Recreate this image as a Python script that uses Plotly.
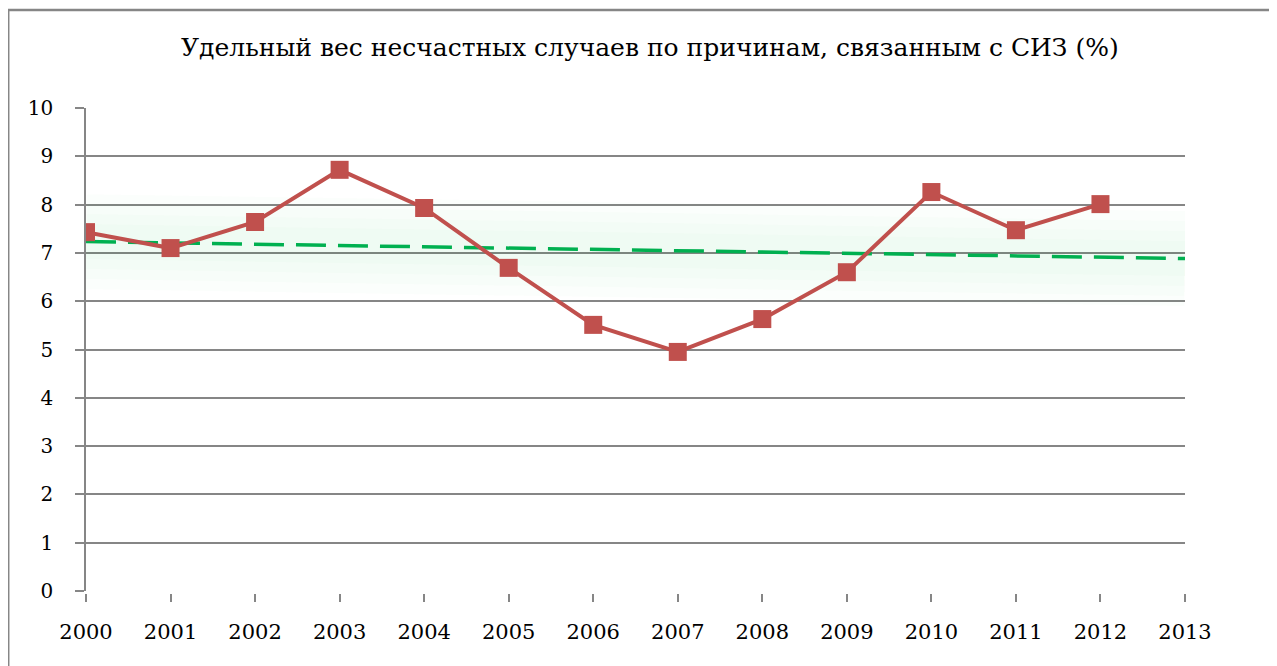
import numpy as np
import plotly.graph_objects as go

years = [2000, 2001, 2002, 2003, 2004, 2005, 2006, 2007, 2008, 2009, 2010, 2011, 2012]
all_years = years + [2013]
values = [7.43, 7.10, 7.64, 8.72, 7.93, 6.69, 5.51, 4.95, 5.63, 6.60, 8.26, 7.47, 8.01]
y_ticks = list(range(0, 11))
title_text = "Удельный вес несчастных случаев по причинам, связанным с СИЗ (%)"

# linear trend (as in the original spreadsheet trendline), forecast one period ahead
idx = np.arange(len(years))
slope, intercept = np.polyfit(idx, values, 1)
trend_x = list(range(len(all_years)))
trend_y = [intercept + slope * i for i in trend_x]

RED = "#C0504D"
GREEN = "#00B050"
GRID = "#868686"
FONT = "DejaVu Serif"

fig = go.Figure()

# soft glow around trend line
for w in [95, 75, 55, 35]:
    fig.add_trace(go.Scatter(x=trend_x, y=trend_y, mode="lines",
                             line=dict(color="rgba(0,176,80,0.016)", width=w),
                             hoverinfo="skip", showlegend=False))

fig.add_trace(go.Scatter(x=trend_x, y=trend_y, mode="lines",
                         line=dict(color=GREEN, width=3.5, dash="30px,12px"),
                         showlegend=False))

fig.add_trace(go.Scatter(x=list(idx), y=values, mode="lines+markers",
                         line=dict(color=RED, width=4),
                         marker=dict(symbol="square", size=18, color=RED),
                         showlegend=False))

fig.update_layout(
    width=1269, height=658,
    margin=dict(l=78, r=92, t=100, b=75),
    paper_bgcolor="white", plot_bgcolor="white",
    font=dict(family=FONT, color="black"),
    xaxis=dict(range=[0, 13], tickmode="array", tickvals=list(range(len(all_years))),
               ticktext=[str(y) for y in all_years], showgrid=False, zeroline=False,
               showline=True, linecolor="white", linewidth=3,
               ticks="outside", ticklen=8, tickcolor=GRID, tickwidth=1.5,
               ticklabelstandoff=12,
               tickfont=dict(family=FONT, size=21, color="black")),
    yaxis=dict(range=[0, 10], tickmode="array", tickvals=y_ticks,
               showgrid=True, gridcolor=GRID, gridwidth=1.5, zeroline=False,
               showline=True, linecolor=GRID, linewidth=1.5,
               ticks="outside", ticklen=9, tickcolor=GRID, tickwidth=1.5,
               ticklabelstandoff=18,
               tickfont=dict(family=FONT, size=20, color="black")),
    annotations=[dict(text=title_text, xref="paper", yref="paper",
                      x=0.513, y=1.126, xanchor="center", yanchor="middle",
                      showarrow=False, font=dict(family=FONT, size=25, color="black"))],
    shapes=[
        dict(type="line", xref="paper", yref="paper",
             x0=-0.071, x1=1.3, y0=1.203, y1=1.203,
             line=dict(color=GRID, width=2.5), layer="below"),
        dict(type="line", xref="paper", yref="paper",
             x0=-0.071, x1=-0.071, y0=-0.3, y1=1.203,
             line=dict(color=GRID, width=3), layer="below"),
    ],
)

fig.write_html("out.html")
